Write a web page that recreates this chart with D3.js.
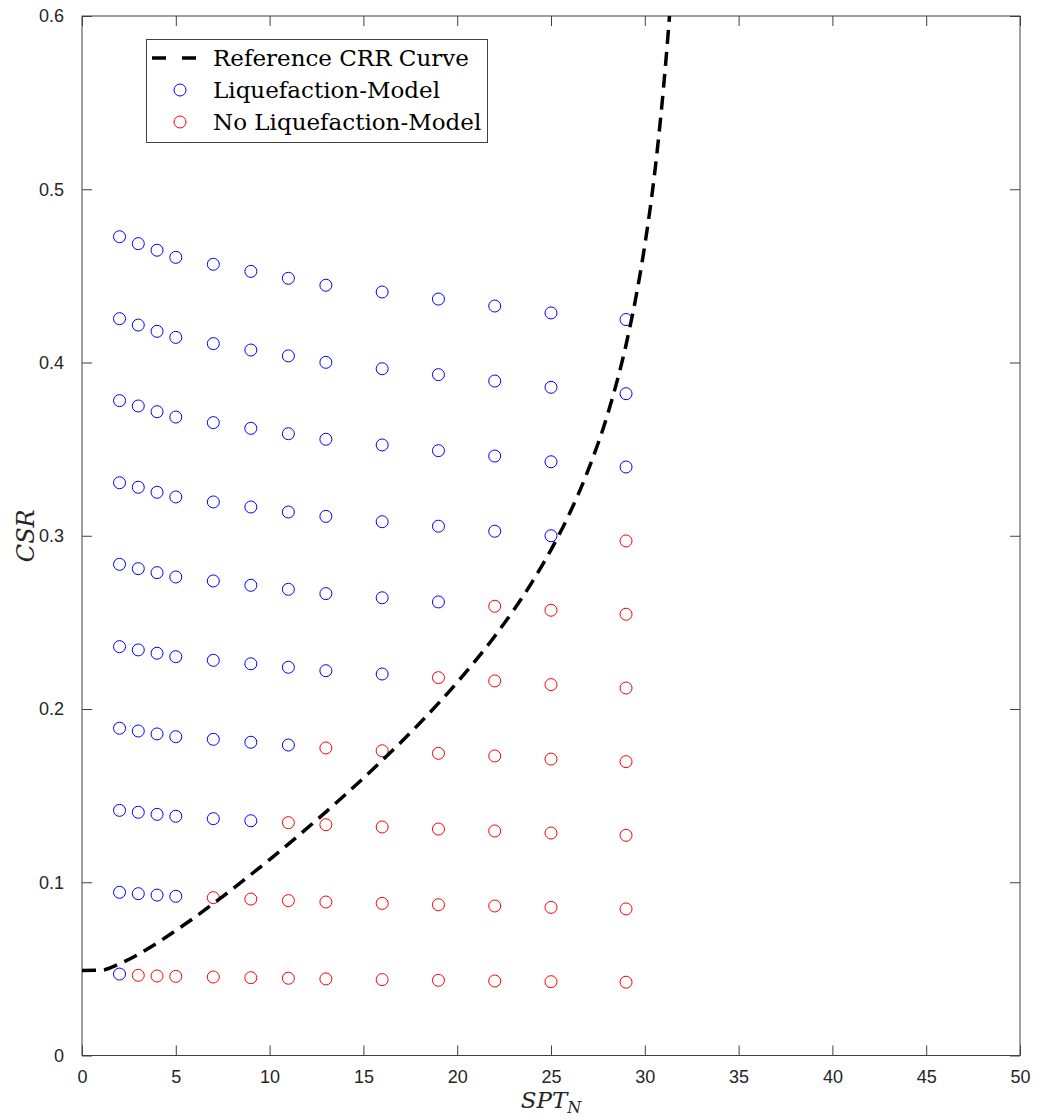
<!DOCTYPE html>
<html>
<head>
<meta charset="utf-8">
<script src="https://cdn.jsdelivr.net/npm/d3@7"></script>
<style>
  html, body { margin: 0; padding: 0; background: #fff; }
  svg { display: block; }
</style>
</head>
<body>
<div id="chart"></div>
<script>
// SPT N values shared by every CSR row
var sptN = [2, 3, 4, 5, 7, 9, 11, 13, 16, 19, 22, 25, 29];

// CSR levels, one row per loading case (top to bottom)
var csrRows = [
  [0.4726, 0.4686, 0.4648, 0.4607, 0.4567, 0.4526, 0.4486, 0.4446, 0.4407, 0.4366, 0.4326, 0.4286, 0.4248],
  [0.4253, 0.4216, 0.4180, 0.4145, 0.4109, 0.4072, 0.4038, 0.4001, 0.3964, 0.3930, 0.3893, 0.3857, 0.3820],
  [0.3780, 0.3749, 0.3716, 0.3685, 0.3653, 0.3620, 0.3589, 0.3557, 0.3524, 0.3491, 0.3460, 0.3427, 0.3397],
  [0.3306, 0.3280, 0.3251, 0.3224, 0.3195, 0.3166, 0.3137, 0.3112, 0.3081, 0.3055, 0.3026, 0.3000, 0.2970],
  [0.2835, 0.2810, 0.2787, 0.2762, 0.2739, 0.2714, 0.2691, 0.2666, 0.2642, 0.2618, 0.2593, 0.2570, 0.2547],
  [0.2360, 0.2341, 0.2322, 0.2302, 0.2281, 0.2261, 0.2241, 0.2221, 0.2202, 0.2181, 0.2162, 0.2141, 0.2121],
  [0.1889, 0.1873, 0.1856, 0.1840, 0.1825, 0.1808, 0.1792, 0.1775, 0.1759, 0.1744, 0.1729, 0.1711, 0.1696],
  [0.1415, 0.1404, 0.1392, 0.1381, 0.1367, 0.1355, 0.1344, 0.1332, 0.1319, 0.1307, 0.1296, 0.1284, 0.1271],
  [0.0942, 0.0934, 0.0926, 0.0919, 0.0911, 0.0903, 0.0894, 0.0886, 0.0878, 0.0870, 0.0863, 0.0855, 0.0846],
  [0.0470, 0.0463, 0.0459, 0.0457, 0.0453, 0.0449, 0.0446, 0.0442, 0.0438, 0.0434, 0.0430, 0.0426, 0.0423]
];

// how many points (from the left) the model marks as liquefaction, per row
var liqCount = [13, 13, 13, 12, 10, 9, 7, 6, 4, 1];

// reference CRR curve
var crrN = [0, 1, 2, 3, 4, 5, 6, 7, 8, 9, 10, 12, 14, 16, 18, 20, 22, 24, 25, 26, 27, 28, 29, 29.5, 30, 30.5, 31, 31.3, 31.35];
var crrV = [0.0491, 0.0492, 0.0529, 0.0584, 0.0649, 0.0721, 0.0797, 0.0877, 0.0959, 0.1044, 0.1131, 0.1312, 0.1502, 0.1703, 0.1918, 0.2154, 0.2420, 0.2734, 0.2919, 0.3131, 0.3384, 0.3695, 0.4102, 0.4362, 0.4677, 0.5070, 0.5589, 0.5977, 0.6050];

var xTicks = [0, 5, 10, 15, 20, 25, 30, 35, 40, 45, 50];
var yTicks = [0, 0.1, 0.2, 0.3, 0.4, 0.5, 0.6];

var legendLabels = ["Reference CRR Curve", "Liquefaction-Model", "No Liquefaction-Model"];

(function () {
  var W = 1041, H = 1119;
  var L = 82, R = 1020, T = 16, B = 1055.5;
  var axisCol = "#404040", tickCol = "#262626";
  var serif = "DejaVu Serif, Liberation Serif, serif";

  var svg = d3.select("#chart").append("svg")
    .attr("width", W).attr("height", H);

  var x = d3.scaleLinear().domain([0, 50]).range([L, R]);
  var y = d3.scaleLinear().domain([0, 0.6]).range([B, T]);

  // clip for the curve
  svg.append("clipPath").attr("id", "plotClip")
    .append("rect").attr("x", L).attr("y", T).attr("width", R - L).attr("height", B - T);

  // axes: ticks pointing inward on all four sides
  function styleAxis(g) {
    g.select(".domain").remove();
    g.selectAll(".tick line").attr("stroke", axisCol).attr("stroke-width", 1);
    g.selectAll(".tick text").attr("fill", tickCol)
      .attr("font-family", "Liberation Sans, Arial, sans-serif").attr("font-size", "18px");
  }
  svg.append("g").attr("transform", "translate(0," + B + ")")
    .call(d3.axisBottom(x).tickValues(xTicks).tickSizeInner(-10).tickSizeOuter(0)
      .tickPadding(15).tickFormat(d3.format("d")))
    .call(styleAxis);
  svg.append("g").attr("transform", "translate(0," + T + ")")
    .call(d3.axisTop(x).tickValues(xTicks).tickSizeInner(-10).tickSizeOuter(0).tickFormat(""))
    .call(styleAxis);
  svg.append("g").attr("transform", "translate(" + L + ",0)")
    .call(d3.axisLeft(y).tickValues(yTicks).tickSizeInner(-10).tickSizeOuter(0)
      .tickPadding(18).tickFormat(function (d) { return d === 0 ? "0" : d3.format(".1f")(d); }))
    .call(styleAxis);
  svg.append("g").attr("transform", "translate(" + R + ",0)")
    .call(d3.axisRight(y).tickValues(yTicks).tickSizeInner(-10).tickSizeOuter(0).tickFormat(""))
    .call(styleAxis);

  svg.append("rect").attr("x", L).attr("y", T).attr("width", R - L).attr("height", B - T)
    .attr("fill", "none").attr("stroke", axisCol).attr("stroke-width", 1);

  // scatter points
  var pts = [];
  csrRows.forEach(function (row, i) {
    row.forEach(function (v, j) {
      pts.push({ n: sptN[j], csr: v, liq: j < liqCount[i] });
    });
  });
  svg.append("g").selectAll("circle").data(pts).join("circle")
    .attr("cx", function (d) { return x(d.n); })
    .attr("cy", function (d) { return y(d.csr); })
    .attr("r", 6)
    .attr("fill", "none")
    .attr("stroke", function (d) { return d.liq ? "#0000ff" : "#ff0000"; })
    .attr("stroke-width", 1);

  // reference CRR curve
  var crr = crrN.map(function (n, i) { return [n, crrV[i]]; });
  svg.append("path").datum(crr)
    .attr("clip-path", "url(#plotClip)")
    .attr("d", d3.line().x(function (d) { return x(d[0]); })
      .y(function (d) { return y(d[1]); }).curve(d3.curveMonotoneX))
    .attr("fill", "none").attr("stroke", "#000").attr("stroke-width", 3.5)
    .attr("stroke-dasharray", "14,8");

  // axis titles
  svg.append("text").attr("x", (L + R) / 2).attr("y", 1108)
    .attr("text-anchor", "middle")
    .attr("font-family", serif)
    .attr("font-style", "italic").attr("font-size", "23px").attr("fill", tickCol)
    .text("SPT").append("tspan").attr("font-size", "16px").attr("dy", 5).text("N");
  svg.append("text")
    .attr("transform", "translate(34," + ((T + B) / 2) + ") rotate(-90)")
    .attr("text-anchor", "middle")
    .attr("font-family", serif)
    .attr("font-style", "italic").attr("font-size", "24px").attr("fill", tickCol)
    .text("CSR");

  // legend
  var lg = svg.append("g");
  lg.append("rect").attr("x", 146.5).attr("y", 39.5).attr("width", 341).attr("height", 103)
    .attr("fill", "#fff").attr("stroke", axisCol).attr("stroke-width", 1);
  var rowY = [58, 90, 122];
  lg.append("line").attr("x1", 152).attr("x2", 197).attr("y1", rowY[0]).attr("y2", rowY[0])
    .attr("stroke", "#000").attr("stroke-width", 3.5).attr("stroke-dasharray", "14,16");
  lg.append("circle").attr("cx", 180).attr("cy", rowY[1]).attr("r", 6)
    .attr("fill", "none").attr("stroke", "#0000ff");
  lg.append("circle").attr("cx", 180).attr("cy", rowY[2]).attr("r", 6)
    .attr("fill", "none").attr("stroke", "#ff0000");
  lg.selectAll("text.lab").data(legendLabels).join("text").attr("class", "lab")
    .attr("x", 213).attr("y", function (d, i) { return rowY[i] + 8; })
    .attr("font-family", serif)
    .attr("font-size", "23px").attr("fill", "#000")
    .text(function (d) { return d; });
})();
</script>
</body>
</html>
